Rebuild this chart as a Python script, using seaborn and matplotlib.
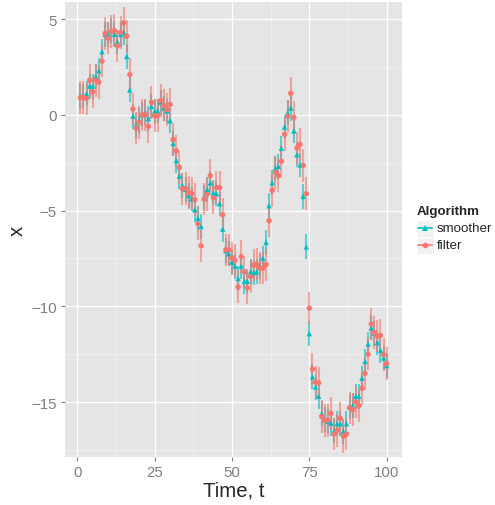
import numpy as np
import pandas as pd
import matplotlib
matplotlib.use("Agg")
import matplotlib.pyplot as plt
import seaborn as sns
from matplotlib.lines import Line2D
from matplotlib.patches import Rectangle

# ---- data ------------------------------------------------------------------
time = np.arange(1, 101)

filter_x = [
    0.9, 0.9, 0.85, 1.8, 1.2, 1.8, 1.7, 2.8, 4.25, 4.0,
    4.35, 4.4, 3.6, 4.3, 4.8, 4.1, 2.1, 0.3, -0.7, -0.4,
    0.0, 0.0, -0.6, 0.65, -0.05, -0.05, 0.75, 0.5, 0.28, 0.54,
    -1.29, -1.88, -2.76, -3.87, -3.84, -4.05, -4.12, -4.43, -5.69, -6.84,
    -4.4, -4.15, -3.18, -4.33, -3.8, -3.8, -5.22, -7.05, -7.05, -7.47,
    -7.6, -8.99, -7.4, -8.2, -9.04, -8.45, -7.85, -7.8, -8.0, -8.0,
    -7.82, -5.53, -3.95, -3.0, -3.17, -2.43, -1.02, -0.07, 1.12, -0.14,
    -1.73, -1.55, -2.65, -4.12, -10.1, -13.28, -13.96, -14.0, -15.76, -15.95,
    -15.95, -15.6, -16.67, -16.48, -15.85, -16.79, -16.67, -15.3, -15.4, -15.0,
    -15.2, -14.28, -13.5, -12.5, -10.93, -11.38, -11.55, -11.52, -12.53, -13.0,
]

smoother_x = [
    0.95, 0.98, 1.1, 1.5, 1.5, 2.0, 2.3, 3.3, 4.2, 4.2,
    4.4, 4.2, 3.8, 4.2, 4.3, 3.05, 1.3, -0.07, -0.55, -0.3,
    0.0, 0.1, -0.2, 0.43, 0.17, 0.2, 0.66, 0.35, 0.2, -0.31,
    -1.5, -2.39, -3.2, -3.7, -3.9, -4.22, -4.4, -4.96, -5.4, -5.83,
    -4.33, -3.9, -3.56, -4.08, -4.12, -4.64, -5.97, -7.1, -7.26, -7.7,
    -7.9, -8.55, -7.9, -8.7, -8.7, -8.2, -8.24, -8.2, -7.9, -7.5,
    -6.66, -4.75, -3.55, -2.8, -2.69, -1.75, -0.64, 0.1, 0.35, -0.84,
    -2.08, -2.62, -4.26, -6.9, -11.43, -13.68, -14.22, -14.7, -15.6, -15.9,
    -16.0, -16.1, -16.5, -16.13, -16.13, -16.53, -16.13, -15.25, -15.2, -14.7,
    -14.7, -13.75, -12.88, -11.97, -11.13, -11.4, -11.9, -12.3, -12.7, -13.1,
]

# half-width of the error bars (roughly constant in the picture)
filter_err = 0.85
smoother_err = 0.65

algorithms = ["smoother", "filter"]
colors = {"smoother": "#00BFC4", "filter": "#F8766D"}
markers = {"smoother": "^", "filter": "o"}

x_ticks = [0, 25, 50, 75, 100]
y_ticks = [-15, -10, -5, 0, 5]

df = pd.DataFrame({
    "t": np.concatenate([time, time]),
    "x": smoother_x + filter_x,
    "err": [smoother_err] * len(time) + [filter_err] * len(time),
    "Algorithm": ["smoother"] * len(time) + ["filter"] * len(time),
})

# ---- styling ----------------------------------------------------------------
sns.set_style("darkgrid")
plt.rcParams["font.family"] = ["Liberation Sans", "DejaVu Sans"]

W, H = 495, 506
fig = plt.figure(figsize=(W / 100, H / 100), dpi=100)
ax = fig.add_axes([65 / W, 1 - 458 / H, 337 / W, 455 / H])
ax.set_facecolor("#E5E5E5")

# error bars first, semi transparent
for alg in algorithms:
    sub = df[df["Algorithm"] == alg]
    ax.vlines(sub["t"], sub["x"] - sub["err"], sub["x"] + sub["err"],
              color=colors[alg], alpha=0.6, lw=1.5, zorder=2)

sns.scatterplot(data=df, x="t", y="x", hue="Algorithm", style="Algorithm",
                hue_order=algorithms, style_order=algorithms,
                palette=colors, markers=markers, s=15, linewidth=0,
                legend=False, ax=ax, zorder=3)

ax.set_xlim(-3.95, 104.95)
ax.set_ylim(-17.87, 5.89)
ax.set_xticks(x_ticks)
ax.set_yticks(y_ticks)
ax.set_xticks([12.5, 37.5, 62.5, 87.5], minor=True)
ax.set_yticks([-17.5, -12.5, -7.5, -2.5, 2.5], minor=True)
ax.grid(which="major", color="white", lw=0.9)
ax.grid(which="minor", color="#F2F2F2", lw=0.5)
ax.set_axisbelow(True)
for s in ax.spines.values():
    s.set_visible(False)

ax.tick_params(which="major", length=3, width=0.8, color="#7F7F7F",
               labelcolor="#7F7F7F", labelsize=10.8, pad=3,
               bottom=True, left=True)
ax.tick_params(which="minor", length=0)

ax.set_xlabel("Time, t", fontsize=14.7, labelpad=1)
ax.set_ylabel("x", fontsize=14.7, labelpad=3, rotation=90)

# ---- legend drawn by hand, ggplot style -------------------------------------
def fx(px):
    return px / W

def fy(py):
    return 1 - py / H

fig.text(fx(417), fy(212.5), "Algorithm", fontsize=9.6, fontweight="bold",
         va="center", ha="left")
for i, alg in enumerate(algorithms):
    cy = 229 + 17 * i
    fig.patches.append(Rectangle((fx(416.5), fy(cy + 8.5)), 17 / W, 17 / H,
                                 transform=fig.transFigure, facecolor="#F2F2F2",
                                 edgecolor="white", lw=0.8))
    fig.lines.append(Line2D([fx(418), fx(432)], [fy(cy), fy(cy)],
                            transform=fig.transFigure, color=colors[alg],
                            lw=1.5, alpha=0.8))
    fig.lines.append(Line2D([fx(425)], [fy(cy)], transform=fig.transFigure,
                            color=colors[alg], marker=markers[alg],
                            markersize=4, markeredgewidth=0, linestyle="none"))
    fig.text(fx(437), fy(cy), alg, fontsize=9.6, va="center", ha="left")

fig.savefig("out.png", dpi=100)
